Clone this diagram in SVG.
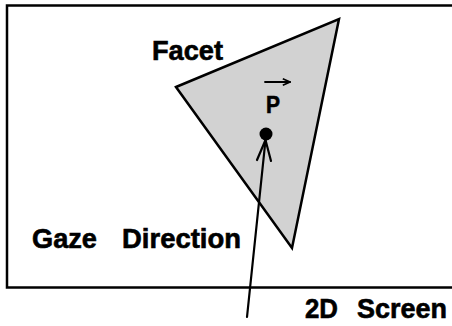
<svg xmlns="http://www.w3.org/2000/svg" width="452" height="326" viewBox="0 0 452 326">
<style>
.lbl{font-family:"Liberation Sans",Arial,sans-serif;font-weight:bold;fill:#000;stroke:#000;stroke-width:0.6}
.ln{fill:none;stroke:#000;stroke-linecap:round;stroke-linejoin:round}
</style>
<defs>
<marker id="open" viewBox="0 0 10 10" refX="9" refY="5" markerWidth="9" markerHeight="9" orient="auto" markerUnits="userSpaceOnUse">
<path d="M1,1.5 L9,5 L1,8.5" fill="none" stroke="#000" stroke-width="1.8"/>
</marker>
</defs>
<rect width="452" height="326" fill="#fff"/>
<g id="screen">
<rect x="7" y="5.5" width="460" height="282" fill="none" stroke="#000" stroke-width="2.5"/>
<text class="lbl" x="305" y="318" font-size="27" textLength="33" lengthAdjust="spacingAndGlyphs">2D</text>
<text class="lbl" x="357" y="318" font-size="27" textLength="90" lengthAdjust="spacingAndGlyphs">Screen</text>
</g>
<g id="facet">
<polygon points="176,87 339,19 292,248" fill="#d2d2d2" stroke="#000" stroke-width="2.5" stroke-linejoin="miter"/>
<text class="lbl" x="152" y="60" font-size="27" textLength="71" lengthAdjust="spacingAndGlyphs">Facet</text>
</g>
<g id="point">
<circle cx="266" cy="134" r="6.5" fill="#000"/>
<text class="lbl" x="266" y="113" font-size="23" textLength="14" lengthAdjust="spacingAndGlyphs">P</text>
<line class="ln" x1="265" y1="82" x2="290" y2="82" stroke-width="1.8" marker-end="url(#open)"/>
</g>
<g id="gaze">
<text class="lbl" x="32" y="248" font-size="27" textLength="65" lengthAdjust="spacingAndGlyphs">Gaze</text>
<text class="lbl" x="122" y="248" font-size="27" textLength="119" lengthAdjust="spacingAndGlyphs">Direction</text>
</g>
<g id="connectors">
<line class="ln" x1="247" y1="317" x2="265.5" y2="140" stroke-width="2.2"/>
<polyline class="ln" points="257,160 265.5,140 271,161" stroke-width="2.2"/>
</g>
</svg>
